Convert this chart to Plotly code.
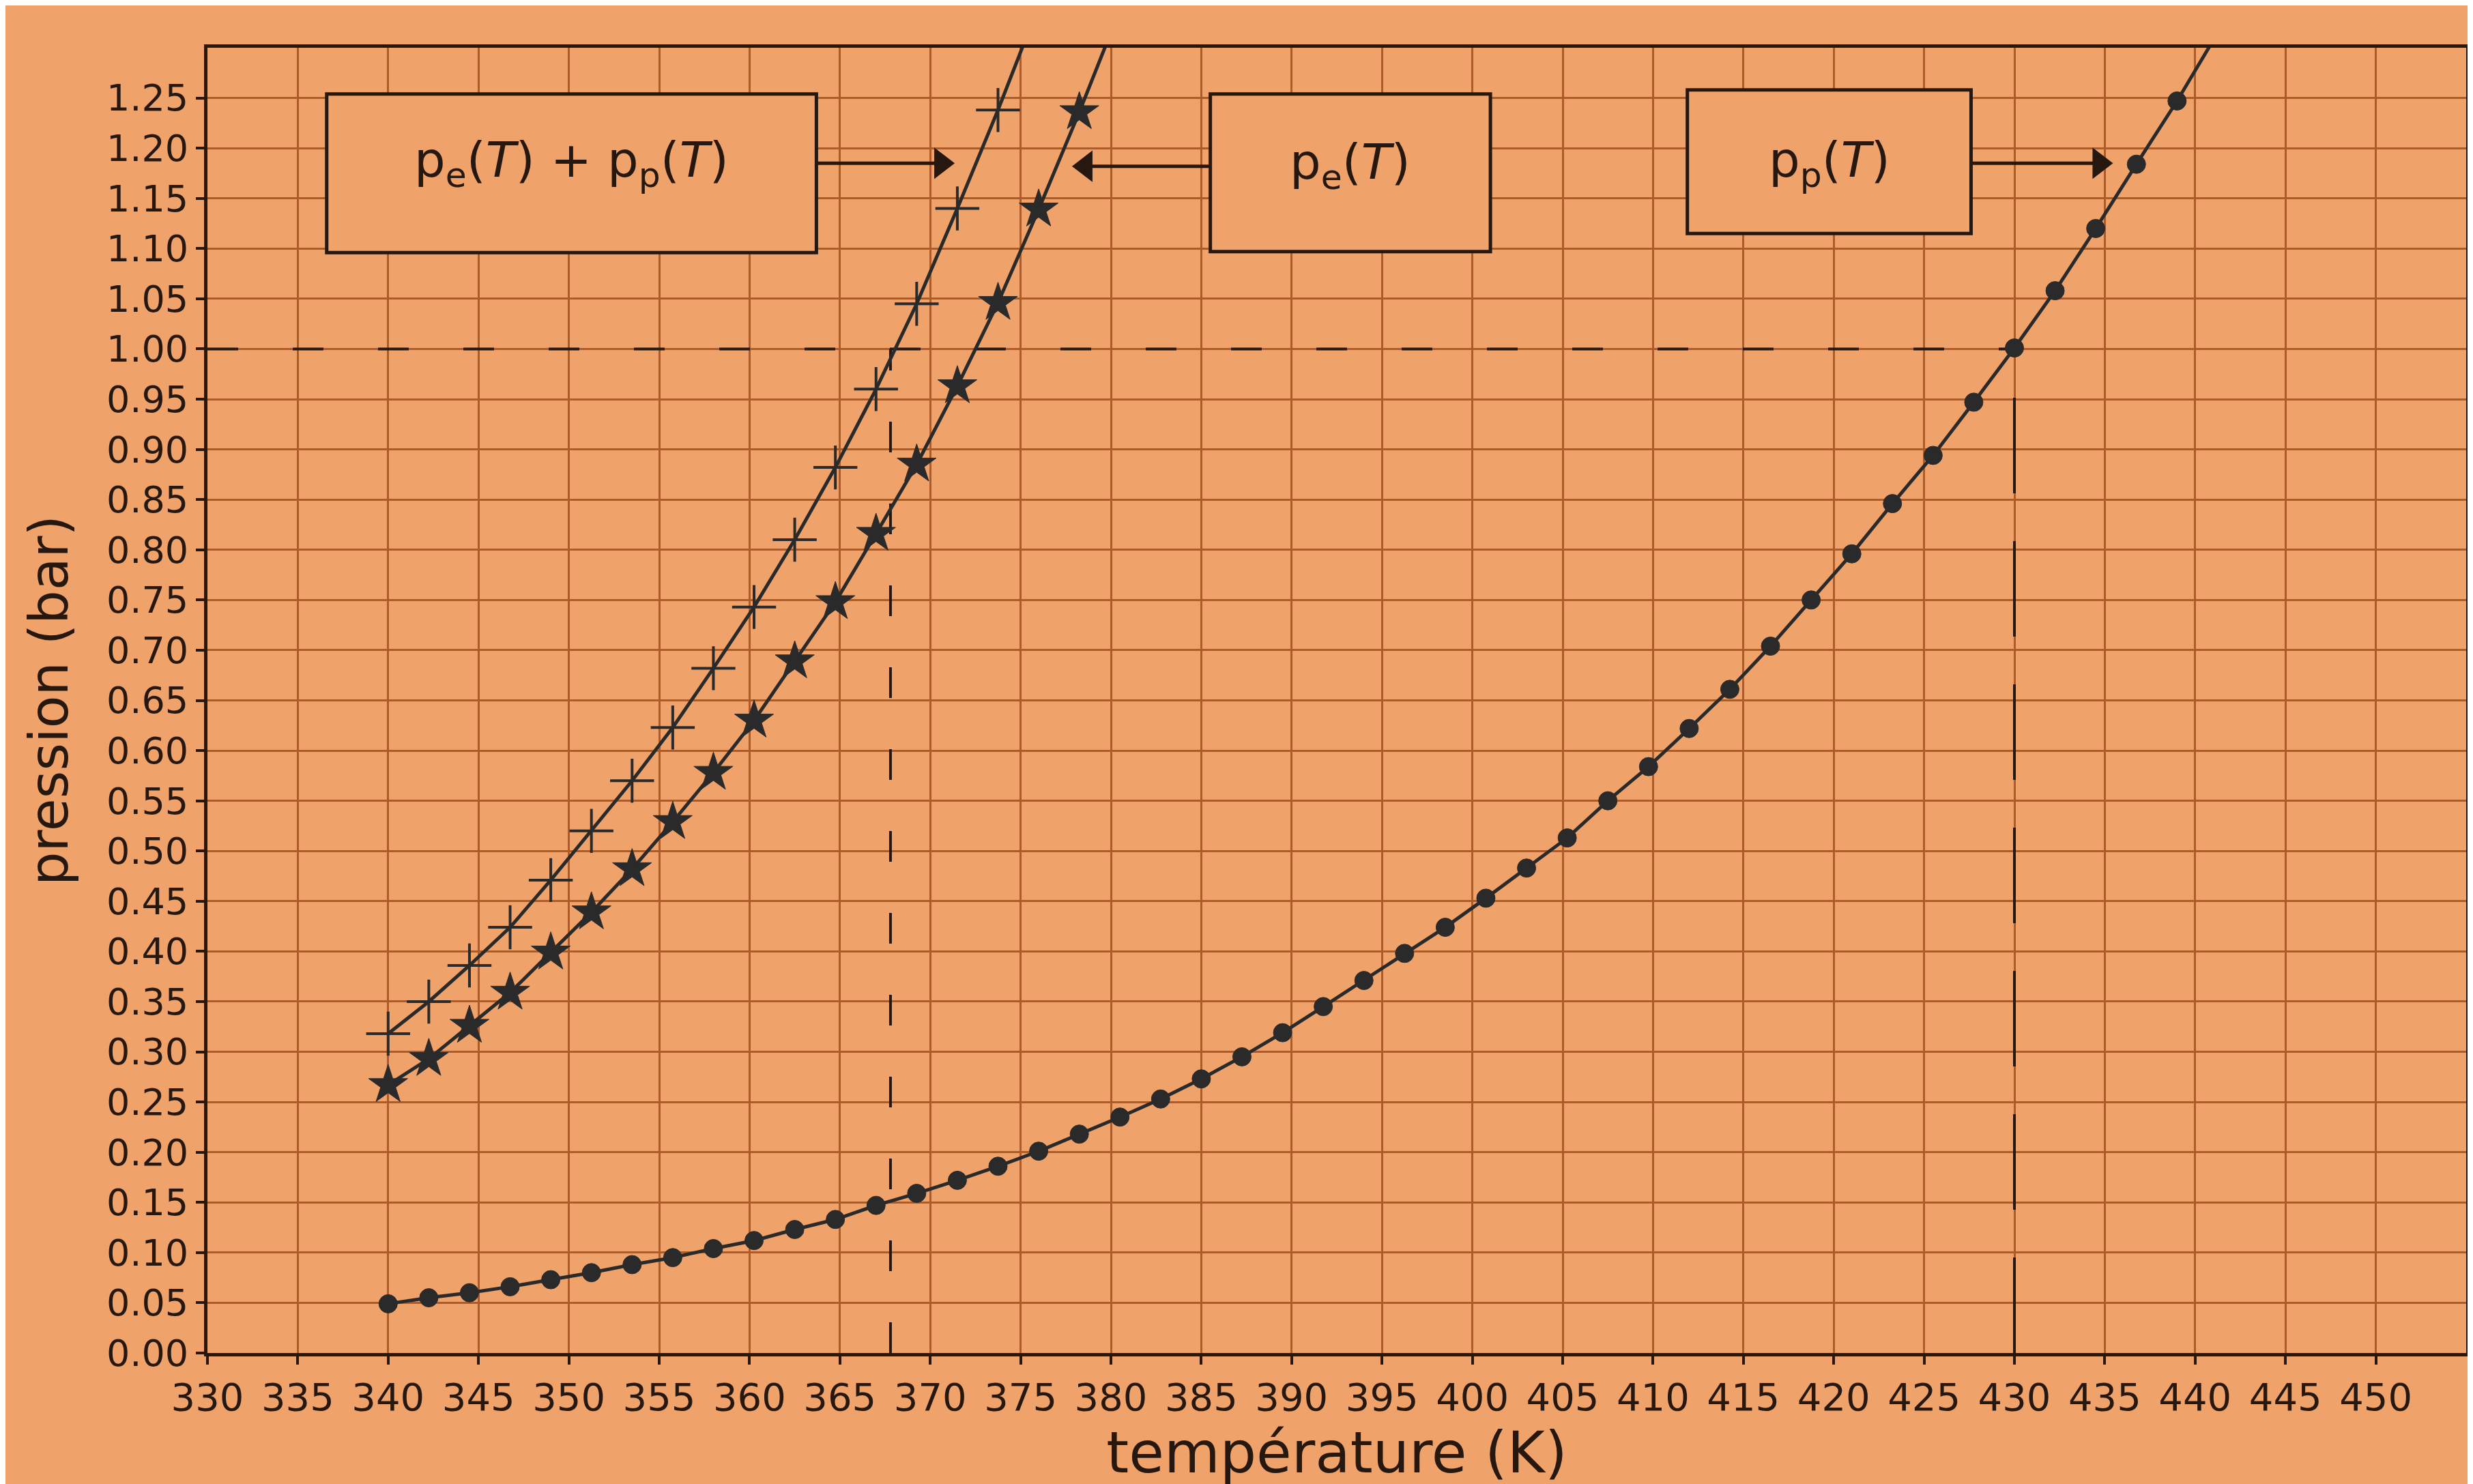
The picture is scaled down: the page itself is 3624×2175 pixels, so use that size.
import plotly.graph_objects as go

# ---------------- data ----------------
T_K = [340.0, 342.25, 344.5, 346.75, 349.0, 351.25, 353.5, 355.75, 358.0, 360.25,
       362.5, 364.75, 367.0, 369.25, 371.5, 373.75, 376.0, 378.25, 380.5, 382.75,
       385.0, 387.25, 389.5, 391.75, 394.0, 396.25, 398.5, 400.75, 403.0, 405.25,
       407.5, 409.75, 412.0, 414.25, 416.5, 418.75, 421.0, 423.25, 425.5, 427.75,
       430.0, 432.25, 434.5, 436.75, 439.0, 441.25]

p_p = [0.049, 0.055, 0.060, 0.066, 0.073, 0.080, 0.088, 0.095, 0.104, 0.112,
       0.123, 0.133, 0.147, 0.159, 0.172, 0.186, 0.201, 0.218, 0.235, 0.253,
       0.273, 0.295, 0.319, 0.345, 0.371, 0.398, 0.424, 0.453, 0.483, 0.513,
       0.550, 0.584, 0.622, 0.661, 0.704, 0.750, 0.796, 0.846, 0.894, 0.947,
       1.001, 1.058, 1.120, 1.184, 1.247, 1.315]

p_e = [0.267, 0.293, 0.326, 0.359, 0.399, 0.439, 0.482, 0.529, 0.578, 0.630,
       0.689, 0.748, 0.816, 0.885, 0.963, 1.046, 1.139, 1.236, 1.338]

p_sum = [0.318, 0.350, 0.386, 0.424, 0.471, 0.520, 0.570, 0.623, 0.682, 0.743,
         0.810, 0.882, 0.960, 1.045, 1.140, 1.238, 1.342]

p_atm = 1.0
T_boil_mix = 367.8
T_boil_p = 430.0

x_ticks = [330, 335, 340, 345, 350, 355, 360, 365, 370, 375, 380, 385, 390, 395,
           400, 405, 410, 415, 420, 425, 430, 435, 440, 445, 450]
y_ticks = [0.00, 0.05, 0.10, 0.15, 0.20, 0.25, 0.30, 0.35, 0.40, 0.45, 0.50, 0.55,
           0.60, 0.65, 0.70, 0.75, 0.80, 0.85, 0.90, 0.95, 1.00, 1.05, 1.10, 1.15,
           1.20, 1.25]
y_tick_text = ["%.2f" % v for v in y_ticks]

label_sum = "p<sub>e</sub>(<i>T</i>) + p<sub>p</sub>(<i>T</i>)"
label_e = "p<sub>e</sub>(<i>T</i>)"
label_p = "p<sub>p</sub>(<i>T</i>)"

# ---------------- styles ----------------
BG = "#EFA36B"
GRID = "#AD5B28"
INK = "#26170F"
CURVE = "#2B2A2B"
FONT = "DejaVu Sans"

fig = go.Figure()

# dashed guide lines
fig.add_trace(go.Scatter(x=[330, T_boil_p], y=[p_atm, p_atm], mode="lines",
                         line=dict(color=INK, width=4, dash="45px,80px"),
                         hoverinfo="skip", showlegend=False))
fig.add_trace(go.Scatter(x=[T_boil_mix, T_boil_mix], y=[0, p_atm], mode="lines",
                         line=dict(color=INK, width=4, dash="45px,75px"),
                         hoverinfo="skip", showlegend=False))
fig.add_trace(go.Scatter(x=[T_boil_p, T_boil_p], y=[0, p_atm], mode="lines",
                         line=dict(color=INK, width=4, dash="140px,70px"),
                         hoverinfo="skip", showlegend=False))

# curves
fig.add_trace(go.Scatter(x=T_K[:len(p_sum)], y=p_sum, mode="lines+markers",
                         line=dict(color=CURVE, width=5),
                         marker=dict(symbol="cross-thin", size=46,
                                     line=dict(color=CURVE, width=4)),
                         showlegend=False))
fig.add_trace(go.Scatter(x=T_K[:len(p_e)], y=p_e, mode="lines+markers",
                         line=dict(color=CURVE, width=5),
                         marker=dict(symbol="star", size=43, color=CURVE,
                                     line=dict(color=CURVE, width=1)),
                         showlegend=False))
fig.add_trace(go.Scatter(x=T_K[:len(p_p)], y=p_p, mode="lines+markers",
                         line=dict(color=CURVE, width=5),
                         marker=dict(symbol="circle", size=27, color=CURVE,
                                     line=dict(color=CURVE, width=1)),
                         showlegend=False))

# label boxes
boxes = [
    (336.6, 363.7, 1.096, 1.254, 350.15, 1.185, label_sum),
    (385.5, 401.0, 1.097, 1.254, 393.25, 1.183, label_e),
    (411.9, 427.6, 1.115, 1.258, 419.75, 1.185, label_p),
]
for x0, x1, y0, y1, tx, ty, txt in boxes:
    fig.add_shape(type="rect", xref="x", yref="y", x0=x0, x1=x1, y0=y0, y1=y1,
                  line=dict(color=INK, width=5), fillcolor=BG, layer="above")
    fig.add_annotation(x=tx, y=ty, xref="x", yref="y", text=txt, showarrow=False,
                       font=dict(family=FONT, size=72, color=INK))

# arrows: shaft + filled triangle head (tail x, head x, y, head symbol)
arrows = [
    (363.7, 370.6, 1.185, "triangle-right"),
    (385.5, 378.6, 1.182, "triangle-left"),
    (427.6, 434.7, 1.185, "triangle-right"),
]
for tx, hx, ay, sym in arrows:
    fig.add_trace(go.Scatter(x=[tx, hx], y=[ay, ay], mode="lines",
                             line=dict(color=INK, width=5),
                             hoverinfo="skip", showlegend=False))
    fig.add_trace(go.Scatter(x=[hx], y=[ay], mode="markers",
                             marker=dict(symbol=sym, size=40, color=INK),
                             hoverinfo="skip", showlegend=False))

fig.update_layout(
    width=3624, height=2175,
    paper_bgcolor=BG, plot_bgcolor=BG,
    margin=dict(l=296, r=18, t=62, b=200),
    font=dict(family=FONT, color=INK),
    showlegend=False,
)
fig.update_xaxes(
    range=[330, 455], tickvals=x_ticks, ticktext=[str(v) for v in x_ticks],
    showgrid=True, gridcolor=GRID, gridwidth=3,
    showline=True, linecolor=INK, linewidth=5, mirror=True,
    ticks="outside", ticklen=12, tickwidth=4, tickcolor=INK,
    tickfont=dict(family=FONT, size=56, color=INK),
    title=dict(text="température (K)", font=dict(family=FONT, size=84, color=INK),
               standoff=14),
    zeroline=False,
)
fig.update_yaxes(
    range=[0, 1.30], tickvals=y_ticks, ticktext=y_tick_text,
    showgrid=True, gridcolor=GRID, gridwidth=3,
    showline=True, linecolor=INK, linewidth=5, mirror=True,
    ticks="outside", ticklen=12, tickwidth=4, tickcolor=INK,
    tickfont=dict(family=FONT, size=54, color=INK),
    title=dict(text="pression (bar)", font=dict(family=FONT, size=78, color=INK),
               standoff=32),
    zeroline=False,
)

fig.write_html("out.html")
